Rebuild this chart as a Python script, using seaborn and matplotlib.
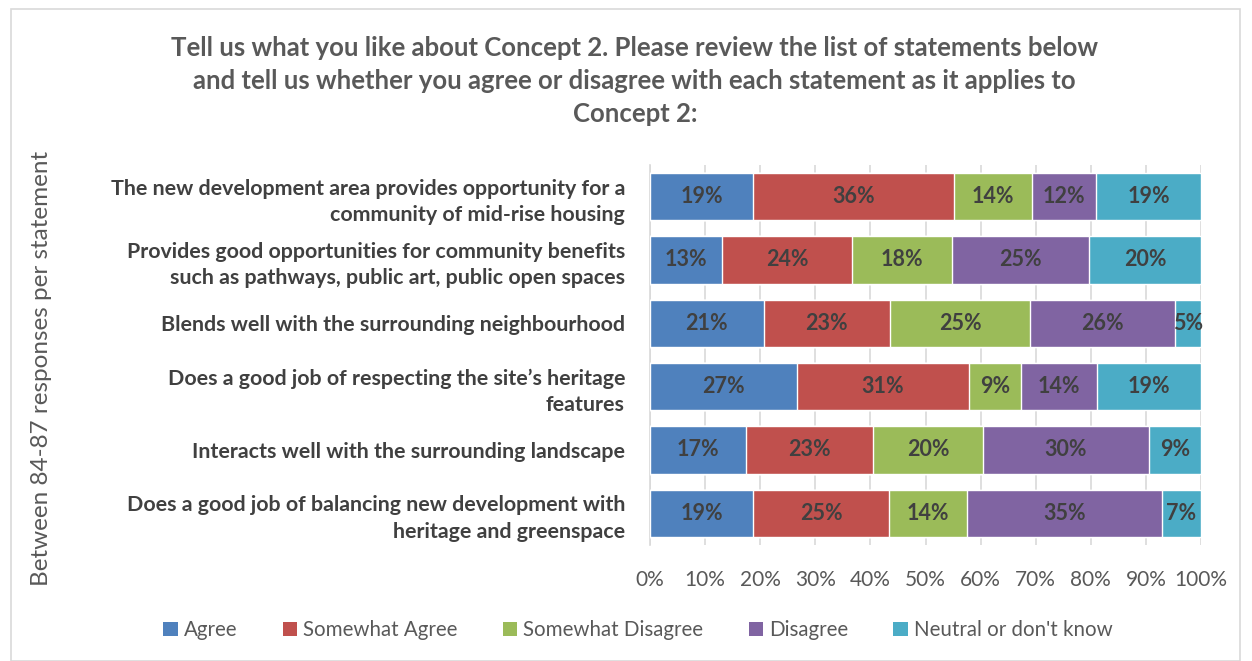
import matplotlib
matplotlib.use("Agg")
import matplotlib.pyplot as plt
from matplotlib.patches import Patch, Rectangle
import seaborn as sns
import pandas as pd
import numpy as np

# statements (top to bottom)
statements = [
    "The new development area provides opportunity for a\ncommunity of mid-rise housing",
    "Provides good opportunities for community benefits\nsuch as pathways, public art, public open spaces",
    "Blends well with the surrounding neighbourhood",
    "Does a good job of respecting the site\u2019s heritage\nfeatures",
    "Interacts well with the surrounding landscape",
    "Does a good job of balancing new development with\nheritage and greenspace",
]

responses = ["Agree", "Somewhat Agree", "Somewhat Disagree", "Disagree", "Neutral or don't know"]
colors = ["#4F81BD", "#C0504D", "#9BBB59", "#8064A2", "#4BACC6"]

# shares per response (percent)
agree = [18.7, 13.0, 20.6, 26.7, 17.4, 18.7]
somewhat_agree = [36.4, 23.7, 23.0, 31.2, 23.1, 24.7]
somewhat_disagree = [14.2, 18.1, 25.3, 9.4, 19.9, 14.2]
disagree = [11.7, 24.9, 26.4, 13.9, 30.2, 35.3]
neutral = [19.0, 20.3, 4.7, 18.8, 9.4, 7.1]

title = ("Tell us what you like about Concept 2. Please review the list of statements below\n"
         "and tell us whether you agree or disagree with each statement as it applies to\n"
         "Concept 2:")
ylab = "Between 84-87 responses per statement"

df = pd.DataFrame({"statement": statements, "Agree": agree, "Somewhat Agree": somewhat_agree,
                   "Somewhat Disagree": somewhat_disagree, "Disagree": disagree,
                   "Neutral or don't know": neutral})
cum = df[responses].cumsum(axis=1)

sns.set_style("white")
plt.rcParams["font.family"] = ["Lato", "DejaVu Sans"]

fig = plt.figure(figsize=(12.52, 6.61), dpi=100)
ax = fig.add_axes([650 / 1252, 1 - 545 / 661, 551 / 1252, 380 / 661])

# stacked bars: draw the cumulative totals from the last series to the first
for resp, col in reversed(list(zip(responses, colors))):
    sns.barplot(x=cum[resp], y=df["statement"], color=col, width=0.75,
                saturation=1, ax=ax, orient="h", zorder=3)

# data labels
for i in range(len(df)):
    left = 0
    for resp in responses:
        v = df.loc[i, resp]
        ax.text(left + v / 2, i, f"{v:.0f}%", ha="center", va="center",
                fontsize=15.5, fontweight="bold", color="#404040", zorder=5)
        left += v

ax.set_xlim(0, 100)
ax.set_ylim(5.5, -0.5)
ax.set_xticks(np.arange(0, 101, 10))
ax.set_xticklabels([f"{t}%" for t in range(0, 101, 10)], fontsize=15, color="#595959")
ax.tick_params(axis="x", length=0, pad=18)
ax.tick_params(axis="y", length=0, pad=18)
for lab in ax.get_yticklabels():
    lab.set_fontsize(15.4)
    lab.set_fontweight("bold")
    lab.set_color("#404040")
    lab.set_linespacing(1.4)
    lab.set_multialignment("right")
ax.grid(axis="x", color="#d9d9d9", linewidth=1.2, zorder=0)
ax.set_axisbelow(True)
ax.set_xlabel("")
ax.set_ylabel("")
for s in ["top", "right", "bottom"]:
    ax.spines[s].set_visible(False)
ax.spines["left"].set_color("#d9d9d9")
ax.spines["left"].set_linewidth(1.2)

fig.text(0.507, 1 - 81 / 661, title, ha="center", va="center", fontsize=18.5,
         fontweight="bold", color="#595959", linespacing=1.45)
fig.text(42 / 1252, 1 - 368 / 661, ylab, rotation=90, ha="center", va="center",
         fontsize=17.5, color="#595959")

handles = [Patch(facecolor=c, edgecolor="none") for c in colors]
fig.legend(handles, responses, loc="center", bbox_to_anchor=(638 / 1252, 1 - 630 / 661),
           ncol=5, frameon=False, fontsize=14.8, labelcolor="#595959",
           handlelength=0.7, handleheight=0.7, handletextpad=0.3, columnspacing=2.2)

fig.patches.append(Rectangle((11 / 1252, 0), 1229 / 1252, 1 - 9 / 661, transform=fig.transFigure,
                             fill=False, edgecolor="#d9d9d9", linewidth=1.2))

fig.savefig("out.png", dpi=100)
